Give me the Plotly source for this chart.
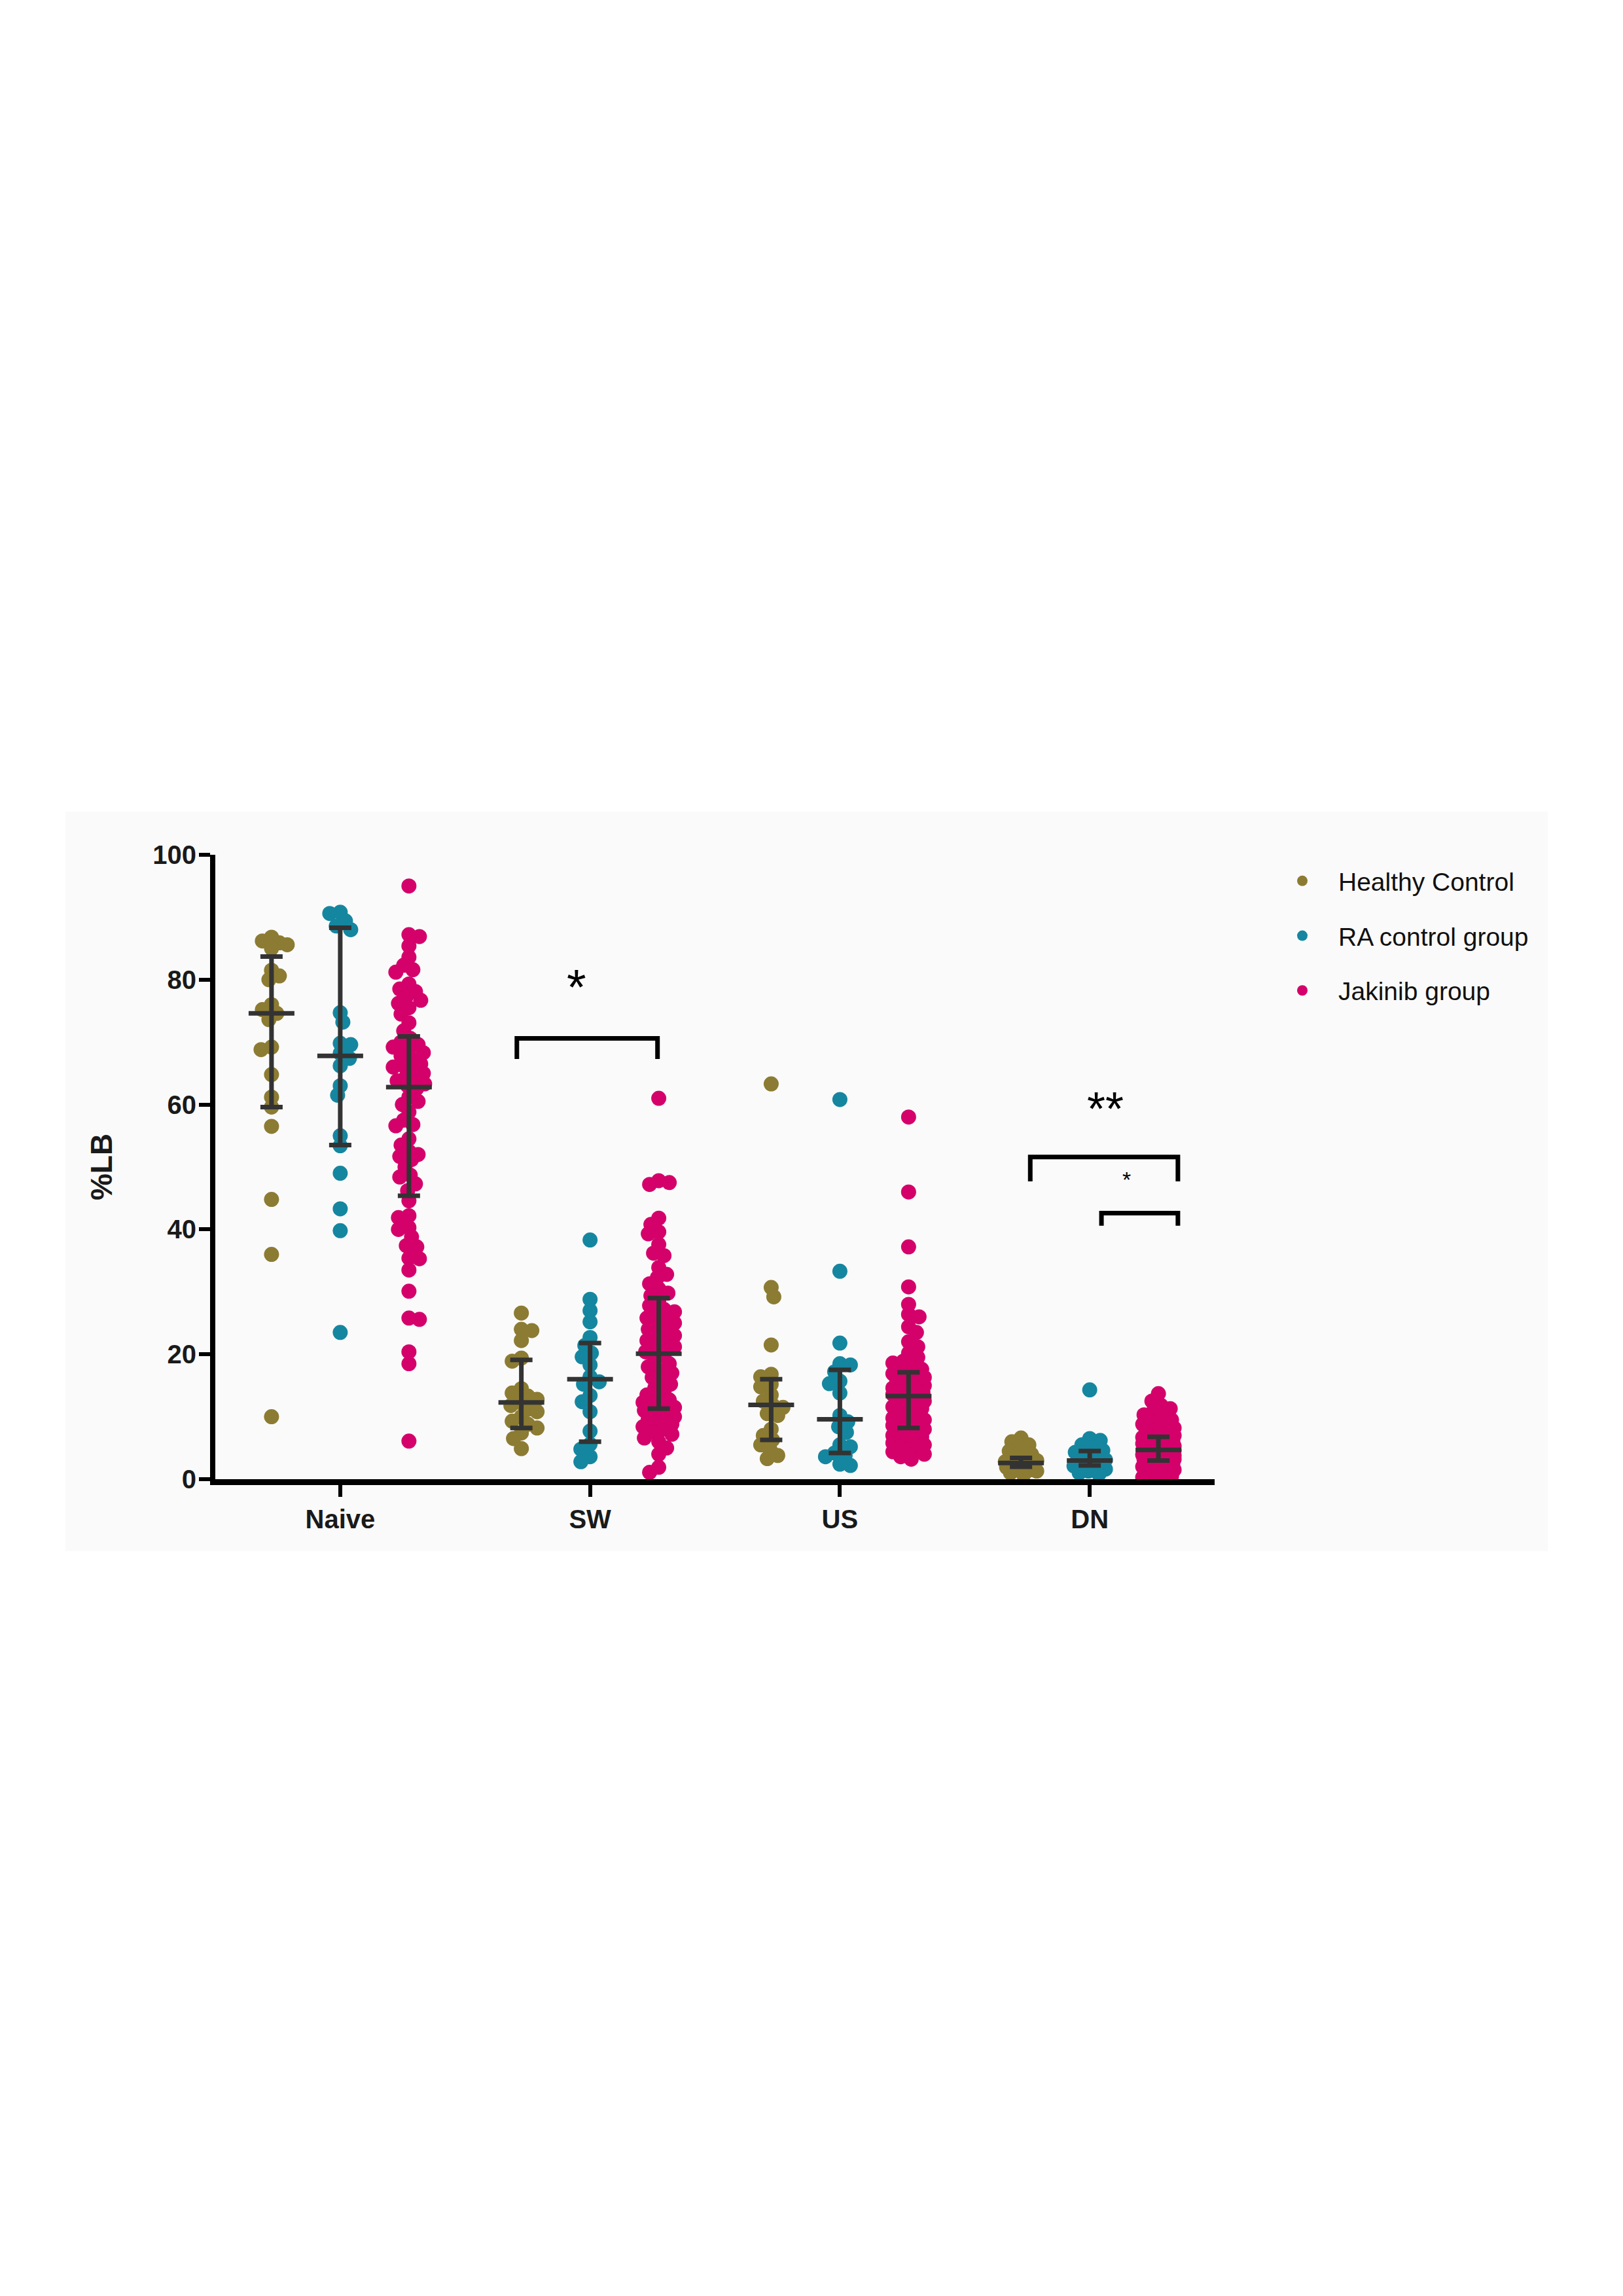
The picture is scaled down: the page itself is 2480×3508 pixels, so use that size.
import plotly.graph_objects as go

# ---------------- data ----------------
categories = ["Naive", "SW", "US", "DN"]
groups = ["Healthy Control", "RA control group", "Jakinib group"]
colors = ["#8c7b32", "#15869f", "#d4016b"]

naive_hc = [86.8, 86.2, 85.6, 85.9, 85.0, 81.5, 80.6, 80.0, 76.0, 75.2, 74.6,
            73.6, 69.2, 68.8, 64.8, 61.2, 59.6, 56.5, 44.8, 36.0, 10.0]
sw_hc = [26.6, 24.0, 23.8, 22.2, 19.4, 18.9, 14.5, 13.8, 13.3, 12.8, 12.3,
         11.8, 11.2, 10.8, 10.0, 9.3, 8.8, 8.2, 7.4, 6.5, 4.9]
us_hc = [63.3, 30.7, 29.2, 21.5, 16.8, 16.4, 15.2, 14.8, 13.5, 12.5, 11.9,
         11.5, 10.5, 10.2, 8.0, 7.0, 6.3, 5.5, 4.8, 3.8, 3.3]
dn_hc = [6.6, 6.0, 5.5, 5.0, 4.5, 4.0, 3.6, 3.3, 3.0, 2.8, 2.6,
         2.5, 2.3, 2.2, 2.0, 1.9, 1.7, 1.5, 1.3, 1.0, 0.7]

naive_ra = [90.8, 90.6, 89.4, 88.6, 88.0, 74.7, 73.2, 69.8, 69.6, 68.2,
            67.4, 66.2, 63.0, 61.5, 55.0, 53.4, 49.0, 43.3, 39.8, 23.5]
sw_ra = [38.3, 28.8, 27.0, 25.2, 22.7, 21.4, 20.2, 19.6, 18.3, 16.4,
         15.6, 15.2, 13.4, 12.4, 10.8, 7.7, 5.6, 4.8, 3.6, 2.8]
us_ra = [60.8, 33.3, 21.8, 18.5, 18.3, 17.2, 15.7, 15.3, 13.8, 10.2,
         9.2, 8.4, 7.5, 5.5, 5.2, 4.2, 3.8, 3.6, 2.4, 2.2]
dn_ra = [14.3, 6.5, 6.2, 5.5, 5.0, 4.6, 4.3, 3.8, 3.4, 3.1,
         2.9, 2.7, 2.5, 2.3, 2.1, 1.9, 1.6, 1.3, 1.0, 0.8]

naive_jak = [95.0, 87.2, 86.9, 85.4, 83.6, 82.3, 81.6, 81.2, 79.3, 78.5, 78.1, 77.3,
             76.7, 76.2, 75.5, 74.5, 73.1, 71.8, 70.6, 70.0, 69.6, 69.2, 68.8, 68.3,
             67.8, 67.3, 66.5, 66.2, 66.0, 65.7, 65.0, 64.5, 64.0, 63.8, 63.3, 63.0,
             62.6, 61.2, 60.5, 60.0, 58.8, 57.5, 56.8, 56.6, 54.5, 53.5, 52.5, 52.0,
             51.7, 51.2, 50.0, 48.7, 48.4, 47.3, 46.2, 44.6, 42.2, 41.9, 40.3, 40.0,
             38.8, 37.4, 37.2, 35.4, 35.3, 33.5, 30.1, 25.8, 25.6, 20.4, 18.5, 6.1]
sw_jak = [61.0, 47.8, 47.5, 47.2, 41.8, 40.8, 39.6, 39.3, 37.6, 36.2, 35.8, 33.9,
          32.8, 32.3, 31.3, 30.5, 29.8, 29.4, 28.5, 27.8, 27.2, 26.8, 26.3, 25.8,
          25.5, 25.0, 24.5, 24.0, 23.5, 23.0, 22.5, 22.2, 21.6, 21.2, 20.8, 20.4,
          19.8, 19.2, 18.5, 18.0, 17.5, 17.0, 16.3, 15.8, 15.2, 14.6, 14.0, 13.5,
          13.0, 12.7, 12.3, 12.0, 11.7, 11.5, 11.0, 10.7, 10.4, 10.0, 9.7, 9.4,
          9.1, 8.8, 8.4, 8.0, 7.6, 7.2, 6.6, 6.0, 5.0, 4.0, 1.9, 1.1]
us_jak = [58.0, 46.0, 37.2, 30.8, 28.0, 26.4, 26.0, 24.4, 23.5, 22.0, 21.2, 20.2,
          19.5, 18.9, 18.6, 18.0, 17.6, 17.3, 16.9, 16.6, 16.3, 16.0, 15.7, 15.5,
          15.2, 15.0, 14.8, 14.6, 14.4, 14.2, 14.0, 13.9, 13.7, 13.6, 13.5, 13.4,
          13.1, 12.8, 12.5, 12.2, 11.9, 11.6, 11.3, 11.0, 10.7, 10.4, 10.1, 9.8,
          9.5, 9.2, 9.0, 8.8, 8.6, 8.4, 8.0, 7.8, 7.5, 7.2, 7.0, 6.8,
          6.5, 6.2, 6.0, 5.8, 5.5, 5.2, 5.0, 4.7, 4.4, 4.0, 3.6, 3.2]
dn_jak = [13.7, 12.5, 11.8, 11.3, 10.8, 10.3, 9.9, 9.5, 9.1, 8.8, 8.5, 8.2,
          7.9, 7.6, 7.4, 7.2, 7.0, 6.9, 6.7, 6.6, 6.4, 6.3, 6.1, 6.0,
          5.8, 5.7, 5.5, 5.4, 5.3, 5.2, 5.1, 5.0, 4.9, 4.9, 4.8, 4.8,
          4.6, 4.5, 4.4, 4.3, 4.2, 4.1, 4.0, 3.9, 3.8, 3.7, 3.6, 3.5,
          3.4, 3.3, 3.2, 3.2, 3.1, 3.1, 2.9, 2.8, 2.7, 2.6, 2.5, 2.4,
          2.3, 2.1, 2.0, 1.9, 1.7, 1.5, 1.3, 1.1, 0.9, 0.7, 0.5, 0.3]

values = [
    [naive_hc, sw_hc, us_hc, dn_hc],
    [naive_ra, sw_ra, us_ra, dn_ra],
    [naive_jak, sw_jak, us_jak, dn_jak],
]

# median and interquartile range, as drawn
median_vals = [[74.6, 12.3, 11.9, 2.6], [67.8, 16.0, 9.6, 3.0], [62.8, 20.1, 13.3, 4.7]]
q1_vals = [[59.6, 8.2, 6.3, 2.0], [53.5, 6.0, 4.2, 2.2], [45.4, 11.3, 8.2, 3.0]]
q3_vals = [[83.7, 19.1, 16.0, 3.4], [88.3, 21.8, 17.5, 4.5], [70.9, 29.0, 17.1, 6.8]]

y_ticks = [0, 20, 40, 60, 80, 100]

# significance brackets: x-left, x-right, top, leg bottom ; label, label x, label y, size
brackets_x0 = [0.707, 2.762, 3.047]
brackets_x1 = [1.270, 3.353, 3.353]
brackets_top = [70.6, 51.6, 42.6]
brackets_leg = [67.3, 47.7, 40.6]
sig_text = ["*", "**", "*"]
sig_x = [0.945, 3.062, 3.147]
sig_y = [78.9, 59.3, 48.0]
sig_size = [76, 72, 34]

# ---------------- layout geometry ----------------
W, H = 2480, 3508
BODY = 8  # default page margin of the html body
ML, MR, MT, MB = 329 - BODY, 624 + BODY, 1306 - BODY, 1248 + BODY
plot_w = W - ML - MR
plot_h = H - MT - MB
x_range = [-0.5, 3.5]
y_range = [0, 100]
px_x = plot_w / (x_range[1] - x_range[0])
px_y = plot_h / (y_range[1] - y_range[0])
DOT = 23
group_offset = 0.275


def swarm(vals, diam, min_frac=0.64, max_off=25.0, step=2.0):
    """Compact beeswarm with allowed overlap; returns x offsets (data units)."""
    mind = diam * min_frac
    order = sorted(range(len(vals)), key=lambda k: -vals[k])
    placed = []
    offs = [0.0] * len(vals)
    cands = [0.0]
    n = 1
    while n * step <= max_off:
        cands += [n * step, -n * step]
        n += 1
    flip = 1
    for k in order:
        yp = vals[k] * px_y
        best, best_d = None, -1.0
        for c0 in cands:
            c = c0 * flip
            dmin = 1e9
            for (ax, ay) in placed:
                if abs(ay - yp) < diam * 1.5:
                    d = ((ax - c) ** 2 + (ay - yp) ** 2) ** 0.5
                    if d < dmin:
                        dmin = d
            if dmin >= mind:
                best = c
                break
            if dmin > best_d:
                best_d, best = dmin, c
        placed.append((best, yp))
        offs[k] = best / px_x
        flip = -flip
    return offs


fig = go.Figure()

for g, gname in enumerate(groups):
    xs, ys = [], []
    for c in range(len(categories)):
        v = values[g][c]
        offs = swarm(v, DOT)
        base = c + (g - 1) * group_offset
        xs += [base + o for o in offs]
        ys += v
    fig.add_trace(go.Scatter(
        x=xs, y=ys, mode="markers", name=gname, legendgroup=gname,
        marker=dict(size=DOT, color=colors[g], line=dict(width=0)),
        cliponaxis=False, hoverinfo="skip",
    ))

for g in range(len(groups)):
    xpos = [c + (g - 1) * group_offset for c in range(len(categories))]
    med = median_vals[g]
    up = [q3_vals[g][c] - med[c] for c in range(len(categories))]
    dn = [med[c] - q1_vals[g][c] for c in range(len(categories))]
    fig.add_trace(go.Scatter(
        x=xpos, y=med, mode="markers", showlegend=False,
        marker=dict(symbol="line-ew", size=50, color="#333333",
                    line=dict(width=7, color="#333333")),
        error_y=dict(type="data", symmetric=False, array=up, arrayminus=dn,
                     color="#333333", thickness=7, width=17),
        cliponaxis=False, hoverinfo="skip",
    ))

shapes = [
    dict(type="rect", xref="paper", yref="paper",
         x0=(100 - BODY - ML) / plot_w, x1=(2365 - BODY - ML) / plot_w,
         y0=-(2370 - 2260) / plot_h, y1=(2260 - 1240) / plot_h,
         fillcolor="#fafafa", line=dict(width=0), layer="below"),
]
for i in range(len(brackets_x0)):
    x0, x1, yt, yl = brackets_x0[i], brackets_x1[i], brackets_top[i], brackets_leg[i]
    shapes.append(dict(
        type="path", xref="x", yref="y",
        path=f"M {x0},{yl} L {x0},{yt} L {x1},{yt} L {x1},{yl}",
        line=dict(color="black", width=7),
    ))

annotations = []
for i in range(len(sig_text)):
    annotations.append(dict(
        x=sig_x[i], y=sig_y[i], xref="x", yref="y", text=sig_text[i],
        showarrow=False, yanchor="middle", xanchor="center",
        font=dict(family="Liberation Sans, Arial", size=sig_size[i], color="black"),
    ))

fig.update_layout(
    width=W, height=H,
    margin=dict(l=ML, r=MR, t=MT, b=MB, pad=0),
    paper_bgcolor="white", plot_bgcolor="rgba(0,0,0,0)",
    shapes=shapes, annotations=annotations,
    showlegend=True,
    legend=dict(
        x=(1935 - BODY - ML) / plot_w, y=(2260 - 1314) / plot_h,
        xanchor="left", yanchor="top",
        font=dict(family="Liberation Sans Narrow, Arial Narrow, Liberation Sans",
                  size=39, color="#111111"),
        bgcolor="rgba(0,0,0,0)", itemwidth=100, tracegroupgap=30,
        traceorder="grouped",
    ),
    xaxis=dict(
        range=x_range, tickmode="array", tickvals=list(range(len(categories))),
        ticktext=categories, showgrid=False, zeroline=False,
        showline=True, linecolor="black", linewidth=9,
        ticks="outside", ticklen=18, tickwidth=6, tickcolor="black",
        tickfont=dict(family="Liberation Sans, Arial", size=40, color="#1a1a1a",
                      weight="bold"),
    ),
    yaxis=dict(
        range=y_range, tickmode="array", tickvals=y_ticks,
        showgrid=False, zeroline=False,
        showline=True, linecolor="black", linewidth=8,
        ticks="outside", ticklen=17, tickwidth=6, tickcolor="black",
        ticklabelstandoff=-4,
        tickfont=dict(family="Liberation Sans, Arial", size=40, color="#1a1a1a",
                      weight="bold"),
        title=dict(text="%LB", standoff=50,
                   font=dict(family="Liberation Sans, Arial", size=46,
                             color="#1a1a1a", weight="bold")),
    ),
)

fig.write_html("out.html")
